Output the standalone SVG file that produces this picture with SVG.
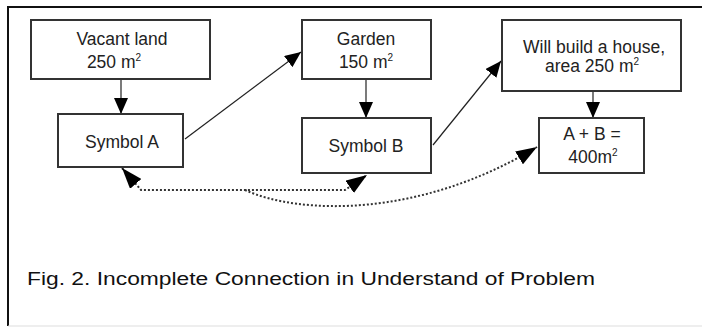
<svg xmlns="http://www.w3.org/2000/svg" width="702" height="327" viewBox="0 0 702 327">
<style>
.box{fill:#fff;stroke:#333;stroke-width:2}
.t{font-family:"Liberation Sans",Arial,sans-serif;font-size:17.5px;fill:#222;text-anchor:middle}
.sup{font-size:10px}
.ln{fill:none;stroke:#222;stroke-width:1.2}
.dot{fill:none;stroke:#333;stroke-width:2;stroke-dasharray:2 2}
.cap{font-family:"Liberation Sans",Arial,sans-serif;font-size:18px;fill:#111}
</style>
<defs>
<marker id="ah" markerUnits="userSpaceOnUse" viewBox="0 0 16 14" refX="16" refY="7" markerWidth="16" markerHeight="14" orient="auto-start-reverse">
<path d="M0,0 L16,7 L0,14 z" fill="#000"/>
</marker>
<marker id="ahd" markerUnits="userSpaceOnUse" viewBox="0 0 21 15" refX="21" refY="7.5" markerWidth="21" markerHeight="15" orient="auto-start-reverse">
<path d="M0,0 L21,7.5 L0,15 z" fill="#000"/>
</marker>
</defs>
<rect x="0" y="0" width="702" height="327" fill="#fff"/>
<g id="frame">
<line x1="7" y1="7" x2="702" y2="7" stroke="#111" stroke-width="2"/>
<line x1="8" y1="6" x2="8" y2="326" stroke="#111" stroke-width="2"/>
<line x1="8" y1="326" x2="702" y2="326" stroke="#ddd" stroke-width="1"/>
</g>
<g id="connectors">
<line class="ln" x1="121" y1="79" x2="121" y2="114" marker-end="url(#ah)"/>
<line class="ln" x1="185" y1="139" x2="301" y2="52" marker-end="url(#ah)"/>
<line class="ln" x1="366" y1="79" x2="366" y2="118" marker-end="url(#ah)"/>
<line class="ln" x1="433" y1="145" x2="501" y2="61" marker-end="url(#ah)"/>
<line class="ln" x1="593" y1="91" x2="593" y2="118" marker-end="url(#ah)"/>
<path class="dot" d="M122,168 L141,190 L345,190 L367,175" marker-start="url(#ahd)" marker-end="url(#ahd)"/>
<path class="dot" d="M245,190 C300,215 420,218 537,147" marker-end="url(#ahd)"/>
</g>
<g id="vacant">
<rect class="box" x="31" y="20" width="179" height="59"/>
<text class="t" x="122" y="45">Vacant land</text>
<text class="t" x="114" y="68">250 m<tspan class="sup" dy="-7">2</tspan></text>
</g>
<g id="symbolA">
<rect class="box" x="58" y="114" width="125" height="53"/>
<text class="t" x="122" y="148">Symbol A</text>
</g>
<g id="garden">
<rect class="box" x="302" y="20" width="129" height="59"/>
<text class="t" x="366" y="45">Garden</text>
<text class="t" x="366" y="68">150 m<tspan class="sup" dy="-7">2</tspan></text>
</g>
<g id="symbolB">
<rect class="box" x="302" y="118" width="129" height="55"/>
<text class="t" x="366" y="152">Symbol B</text>
</g>
<g id="house">
<rect class="box" x="502" y="20" width="179" height="71"/>
<text class="t" x="594" y="53">Will build a house,</text>
<text class="t" x="592" y="72">area 250 m<tspan class="sup" dy="-7">2</tspan></text>
</g>
<g id="sum">
<rect class="box" x="539" y="118" width="105" height="55"/>
<text class="t" x="592" y="140">A + B =</text>
<text class="t" x="593" y="163">400m<tspan class="sup" dy="-7">2</tspan></text>
</g>
<g id="caption">
<text class="cap" x="27" y="285" textLength="568" lengthAdjust="spacingAndGlyphs">Fig. 2. Incomplete Connection in Understand of Problem</text>
</g>
</svg>
